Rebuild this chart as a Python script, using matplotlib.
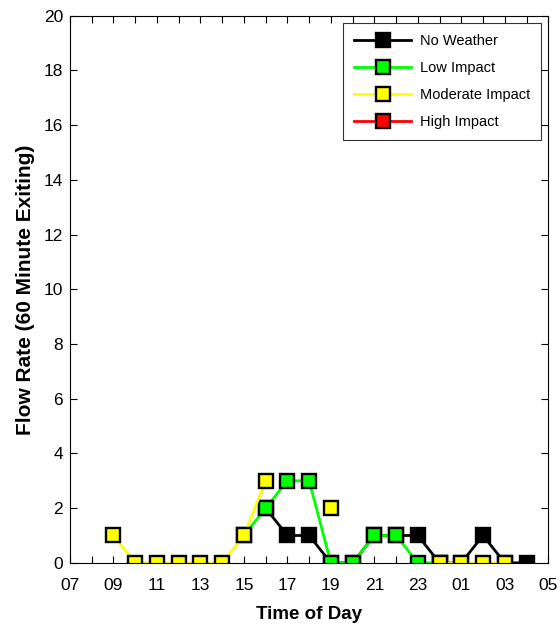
import numpy as np
import matplotlib
matplotlib.use('Agg')
import matplotlib.pyplot as plt

plt.rcParams['font.family'] = ['Liberation Sans', 'DejaVu Sans']

# hours of day (7 = 07:00, 25 = 01:00 next day)
hours_none = [16, 17, 18, 19, 20, 21, 22, 23, 24, 25, 26, 27, 28]
flow_none = [2, 1, 1, 0, 0, 1, 1, 1, 0, 0, 1, 0, 0]

hours_low = [15, 16, 17, 18, 19, 20, 21, 22, 23, 24]
flow_low = [1, 2, 3, 3, 0, 0, 1, 1, 0, 0]

hours_mod = [9, 10, 11, 12, 13, 14, 15, 16, 17, 18, 19, 20, 21, 22, 23, 24, 25, 26, 27]
flow_mod = [1, 0, 0, 0, 0, 0, 1, 3, np.nan, np.nan, 2, np.nan, np.nan, np.nan, np.nan, 0, 0, 0, 0]

hours_high = []
flow_high = []

series = [
    ('No Weather', hours_none, flow_none, 'black'),
    ('Low Impact', hours_low, flow_low, '#00ff00'),
    ('Moderate Impact', hours_mod, flow_mod, '#ffff00'),
    ('High Impact', hours_high, flow_high, '#ff0000'),
]

fig = plt.figure(figsize=(5.6, 6.31), dpi=100)
ax = fig.add_axes([0.125, 0.108, 0.854, 0.867])

for name, x, y, c in series:
    ax.plot(x, y, '-s', color=c, lw=2, markersize=10,
            markerfacecolor=c, markeredgecolor='black', markeredgewidth=1.7,
            label=name)

ax.set_xlim(7, 29)
ax.set_ylim(0, 20)
tick_hours = np.arange(7, 30)
ax.set_xticks(tick_hours)
ax.set_xticklabels(['%02d' % (h % 24) if (h - 7) % 2 == 0 else '' for h in tick_hours])
ax.set_yticks(np.arange(0, 21, 2))
ax.tick_params(direction='in', top=True, right=True, length=5, labelsize=12.5, width=0.8)
ax.tick_params(axis='x', pad=11)
ax.tick_params(axis='y', pad=5)
for s in ax.spines.values():
    s.set_linewidth(0.8)

ax.set_xlabel('Time of Day', fontsize=13.5, fontweight='bold', labelpad=9)
ax.set_ylabel('Flow Rate (60 Minute Exiting)', fontsize=15, fontweight='bold', labelpad=6)

leg = ax.legend(loc='upper right', fontsize=10.5, frameon=True, fancybox=False,
                edgecolor='black', borderaxespad=0.5, handlelength=3.9,
                labelspacing=0.9, borderpad=0.75, handletextpad=0.6)
leg.get_frame().set_linewidth(0.8)

fig.savefig('out.png', dpi=100)
